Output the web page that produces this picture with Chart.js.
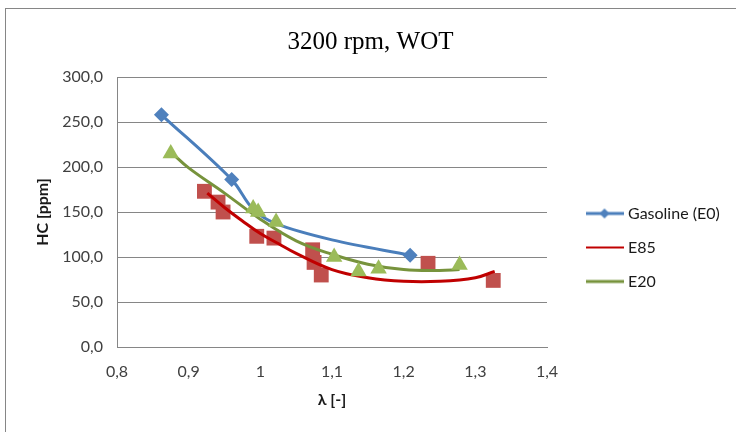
<!DOCTYPE html>
<html>
<head>
<meta charset="utf-8">
<script src="https://cdn.jsdelivr.net/npm/chart.js@4.4.1/dist/chart.umd.min.js"></script>
<style>
    html, body { margin: 0; padding: 0; background: #fff; overflow: hidden; }
    #frame {
        position: absolute; left: 5px; top: 8px; width: 800px; height: 500px;
        border-left: 1px solid #868686; border-top: 1px solid #868686;
    }
    #box { position: absolute; left: 6px; top: 9px; width: 730px; height: 423px; }
</style>
</head>
<body>
<div id="frame"></div>
<div id="box"><canvas id="hcChart"></canvas></div>
<script>
// 数据
const gasolineLambda = [0.862, 0.960, 0.990, 1.022, 1.100, 1.209];
const gasolineHC = [258, 186, 153, 137, 119, 102];

const e85Lambda = [0.922, 0.941, 0.948, 0.995, 1.019, 1.073, 1.075, 1.085, 1.234, 1.325];
const e85HC = [173, 161, 150, 123, 121, 108, 94, 80, 93, 74];
const e85FitLambda = [0.926, 0.95, 0.975, 1.0, 1.025, 1.05, 1.1, 1.15, 1.2, 1.25, 1.3, 1.327];
const e85FitHC = [171, 155, 140, 126, 115, 104, 86, 77, 73, 73, 77, 84];

const e20Lambda = [0.875, 0.990, 0.997, 1.022, 1.103, 1.137, 1.165, 1.278];
const e20HC = [215, 154, 150, 139, 100, 84, 87, 91];
const e20FitLambda = [0.876, 0.9, 0.95, 1.0, 1.05, 1.1, 1.15, 1.2, 1.25, 1.278];
const e20FitHC = [216, 199, 171, 142, 118, 103, 92, 86, 85, 86];

const xTickLabels = ['0,8', '0,9', '1', '1,1', '1,2', '1,3', '1,4'];
const yTickLabels = ['0,0', '50,0', '100,0', '150,0', '200,0', '250,0', '300,0'];

const toPoints = (xs, ys) => xs.map((x, i) => ({ x: x, y: ys[i] }));

// 图例图标: 线 + 可选菱形
function legendIcon(color, width, diamond) {
    const c = document.createElement('canvas');
    c.width = 38; c.height = 16;
    const g = c.getContext('2d');
    g.strokeStyle = color;
    g.lineWidth = width;
    g.beginPath();
    g.moveTo(0, 8); g.lineTo(38, 8);
    g.stroke();
    if (diamond) {
        g.fillStyle = '#4f81bd';
        g.beginPath();
        g.moveTo(19, 3); g.lineTo(24, 8); g.lineTo(19, 13); g.lineTo(14, 8);
        g.closePath();
        g.fill();
    }
    return c;
}
const icons = {
    'Gasoline (E0)': legendIcon('#4a7ebb', 3, true),
    'E85': legendIcon('#c00000', 2, false),
    'E20': legendIcon('#77933c', 3, false)
};

// 图例和标题位置微调
const boxShift = {
    id: 'boxShift',
    afterLayout(chart) {
        const lg = chart.legend;
        lg.left += 24; lg.right += 24;
        lg.top += 27; lg.bottom += 27;
        const tb = chart.titleBlock;
        tb.left += 19; tb.right += 19;
    }
};

const axisFont = { family: 'Lato', size: 16 };

new Chart(document.getElementById('hcChart'), {
    type: 'scatter',
    data: {
        datasets: [{
            label: 'E20 pts',
            data: toPoints(e20Lambda, e20HC),
            pointStyle: 'triangle',
            pointRadius: 9.5,
            backgroundColor: '#9bbb59',
            borderWidth: 0,
            showLine: false,
            order: 0
        }, {
            label: 'Gasoline (E0)',
            data: toPoints(gasolineLambda, gasolineHC),
            showLine: true,
            tension: 0.35,
            borderColor: '#4a7ebb',
            borderWidth: 3,
            pointStyle: 'rectRot',
            pointRadius: [7.5, 7.5, 0, 0, 0, 7.5],
            backgroundColor: '#4f81bd',
            pointBorderWidth: 0,
            order: 1
        }, {
            label: 'E85',
            data: toPoints(e85FitLambda, e85FitHC),
            showLine: true,
            tension: 0.4,
            borderColor: '#c00000',
            borderWidth: 3,
            pointRadius: 0,
            order: 2
        }, {
            label: 'E20',
            data: toPoints(e20FitLambda, e20FitHC),
            showLine: true,
            tension: 0.4,
            borderColor: '#77933c',
            borderWidth: 3,
            pointRadius: 0,
            order: 3
        }, {
            label: 'E85 pts',
            data: toPoints(e85Lambda, e85HC),
            pointStyle: 'rect',
            pointRadius: 10.5,
            backgroundColor: '#c0504d',
            borderWidth: 0,
            showLine: false,
            order: 4
        }]
    },
    options: {
        responsive: true,
        maintainAspectRatio: false,
        animation: false,
        layout: { padding: { left: 0, right: 39, top: 0, bottom: 0 } },
        plugins: {
            tooltip: { enabled: false },
            title: {
                display: true,
                text: '3200 rpm, WOT',
                color: '#000',
                font: { family: 'Liberation Serif', size: 25, weight: 'normal' },
                padding: { top: 18, bottom: 20 }
            },
            legend: {
                display: true,
                position: 'right',
                maxWidth: 150,
                labels: {
                    color: '#1a1a1a',
                    font: axisFont,
                    padding: 18,
                    usePointStyle: true,
                    pointStyleWidth: 31,
                    filter: (item) => icons[item.text] !== undefined,
                    generateLabels: (chart) => {
                        const items = Chart.defaults.plugins.legend.labels.generateLabels(chart);
                        items.forEach((it) => { if (icons[it.text]) it.pointStyle = icons[it.text]; });
                        return items;
                    }
                }
            }
        },
        scales: {
            x: {
                type: 'linear',
                min: 0.8,
                max: 1.4,
                afterFit: (s) => { s.height = 85; },
                ticks: {
                    stepSize: 0.1,
                    padding: 15,
                    color: '#404040',
                    font: axisFont,
                    callback: (v, i) => xTickLabels[i]
                },
                grid: { display: false, drawTicks: false },
                border: { display: true, color: '#868686', width: 1 },
                title: {
                    display: true,
                    text: 'λ [-]',
                    color: '#1a1a1a',
                    font: { family: 'Lato', size: 16, weight: 'bold' },
                    padding: { top: 0, bottom: 23 }
                }
            },
            y: {
                min: 0,
                max: 300,
                afterFit: (s) => { s.width = 111; },
                ticks: {
                    stepSize: 50,
                    padding: 14,
                    color: '#404040',
                    font: axisFont,
                    callback: (v, i) => yTickLabels[i]
                },
                grid: { color: '#868686', lineWidth: 1, drawTicks: false },
                border: { display: true, color: '#868686', width: 1 },
                title: {
                    display: true,
                    text: 'HC [ppm]',
                    color: '#1a1a1a',
                    font: { family: 'Lato', size: 16, weight: 'bold' },
                    padding: { top: 27, bottom: 0 }
                }
            }
        }
    },
    plugins: [boxShift]
});
</script>
</body>
</html>
